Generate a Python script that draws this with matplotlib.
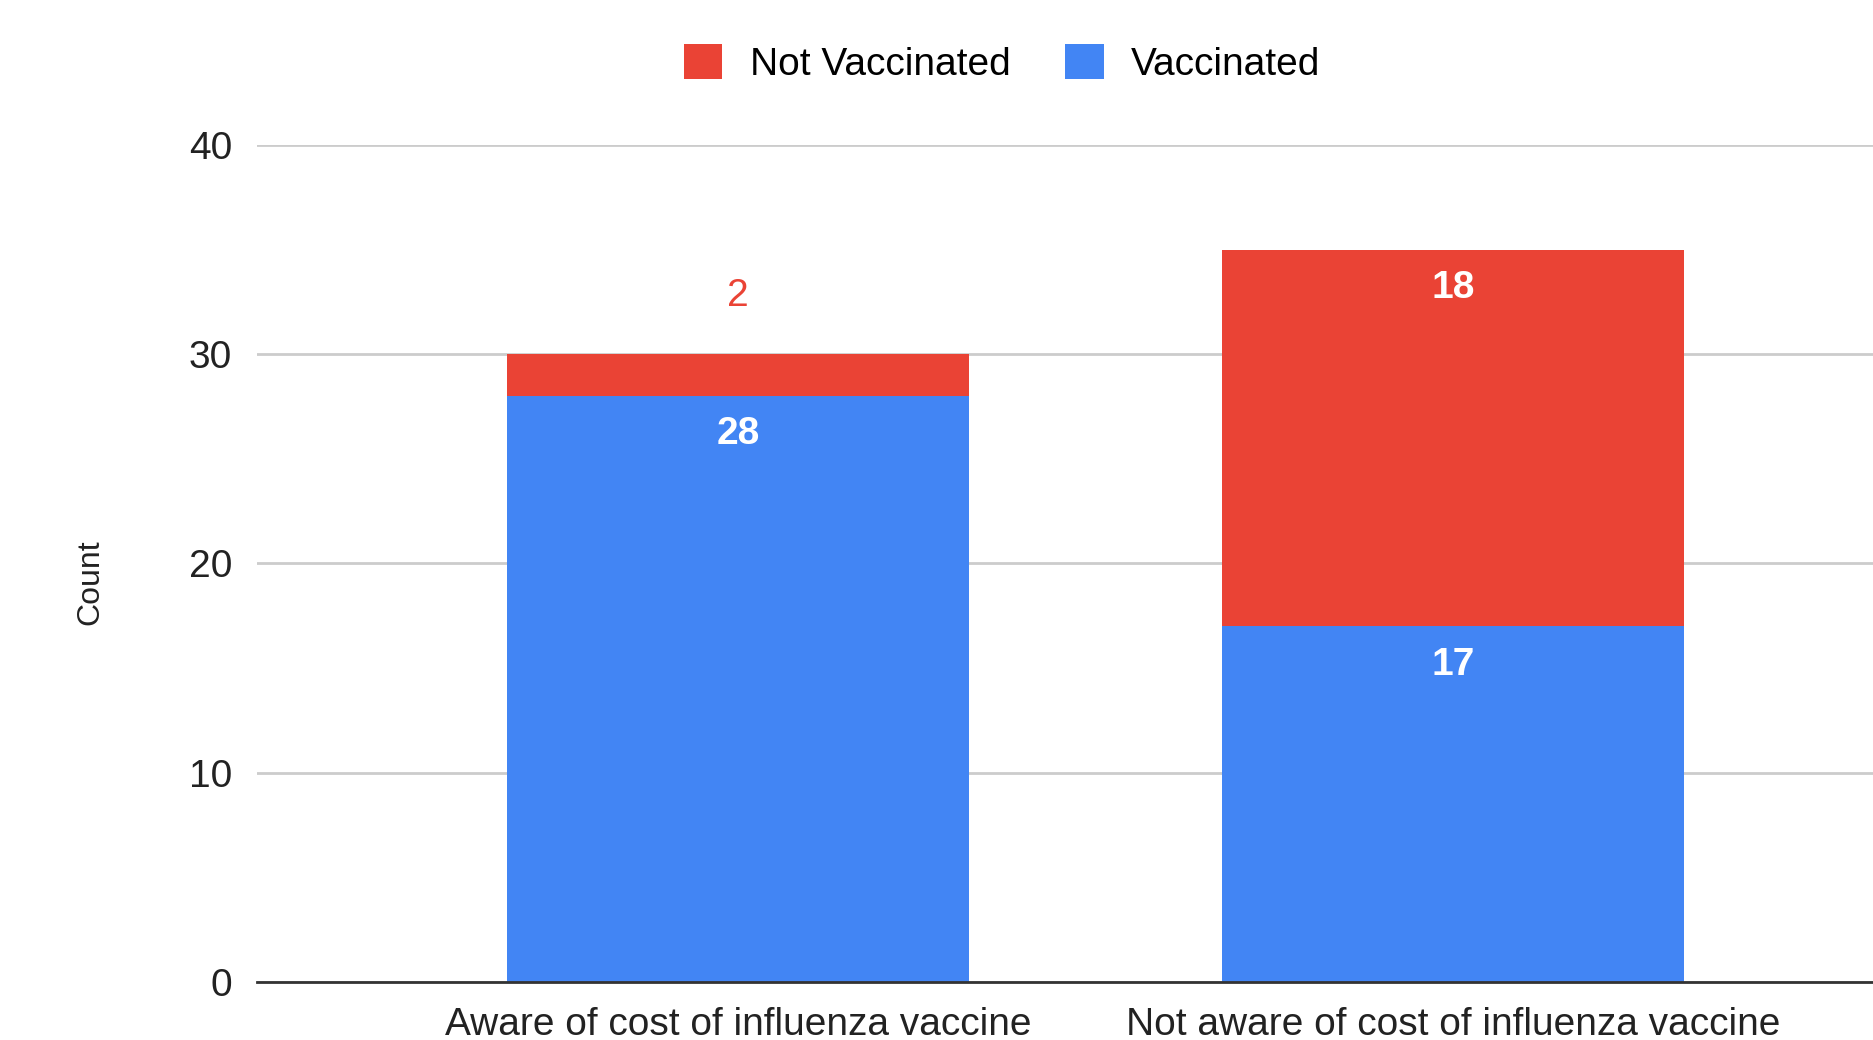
import numpy as np
import matplotlib.pyplot as plt
from matplotlib.patches import Patch

plt.rcParams['font.family'] = ['Liberation Sans', 'DejaVu Sans']

categories = ['Aware of cost of influenza vaccine',
              'Not aware of cost of influenza vaccine']
vaccinated = [28, 17]
not_vaccinated = [2, 18]

RED = '#EA4335'
BLUE = '#4285F4'

fig = plt.figure(figsize=(18.73, 10.40), dpi=100)
ax = fig.add_axes([0.1372, 0.0558, 0.8628, 0.8048])

x = np.arange(len(categories))
width = 0.646
ax.bar(x, vaccinated, width, color=BLUE, zorder=2)
ax.bar(x, not_vaccinated, width, bottom=vaccinated, color=RED, zorder=2)

# value labels (google sheets style: inside at top, outside if too small)
for xi, v, nv in zip(x, vaccinated, not_vaccinated):
    ax.text(xi, v - 1.83, str(v), ha='center', va='center', color='white',
            fontsize=28, fontweight='bold', zorder=3)
    top = v + nv
    if nv >= 5:
        ax.text(xi, top - 1.83, str(nv), ha='center', va='center',
                color='white', fontsize=28, fontweight='bold', zorder=3)
    else:
        ax.text(xi, top + 2.77, str(nv), ha='center', va='center',
                color=RED, fontsize=28, zorder=3)

ax.set_xlim(-0.673, 1.587)
ax.set_ylim(0, 40)
ax.set_yticks([0, 10, 20, 30, 40])
ax.set_xticks(x)
ax.set_xticklabels(categories)
ax.tick_params(axis='both', length=0, labelsize=28, colors='#222222')
ax.tick_params(axis='x', pad=18)
ax.tick_params(axis='y', pad=18)
ax.grid(axis='y', color='#cccccc', linewidth=2, zorder=0)
for s in ['top', 'right', 'left']:
    ax.spines[s].set_visible(False)
ax.spines['bottom'].set_color('#333333')
ax.spines['bottom'].set_linewidth(2)
ax.spines['bottom'].set_zorder(3)

fig.text(90 / 1873, 1 - 582 / 1040, 'Count', rotation=90, ha='center',
         va='center', fontsize=23, color='#222222')

handles = [Patch(facecolor=RED, label='Not Vaccinated'),
           Patch(facecolor=BLUE, label='Vaccinated')]
fig.legend(handles=handles, loc='center', bbox_to_anchor=(1002 / 1873, 0.939),
           ncol=2, frameon=False, fontsize=28, handlelength=1.0,
           handleheight=1.0, handletextpad=0.7, columnspacing=1.4)

fig.savefig('out.png', dpi=100, facecolor='white')
